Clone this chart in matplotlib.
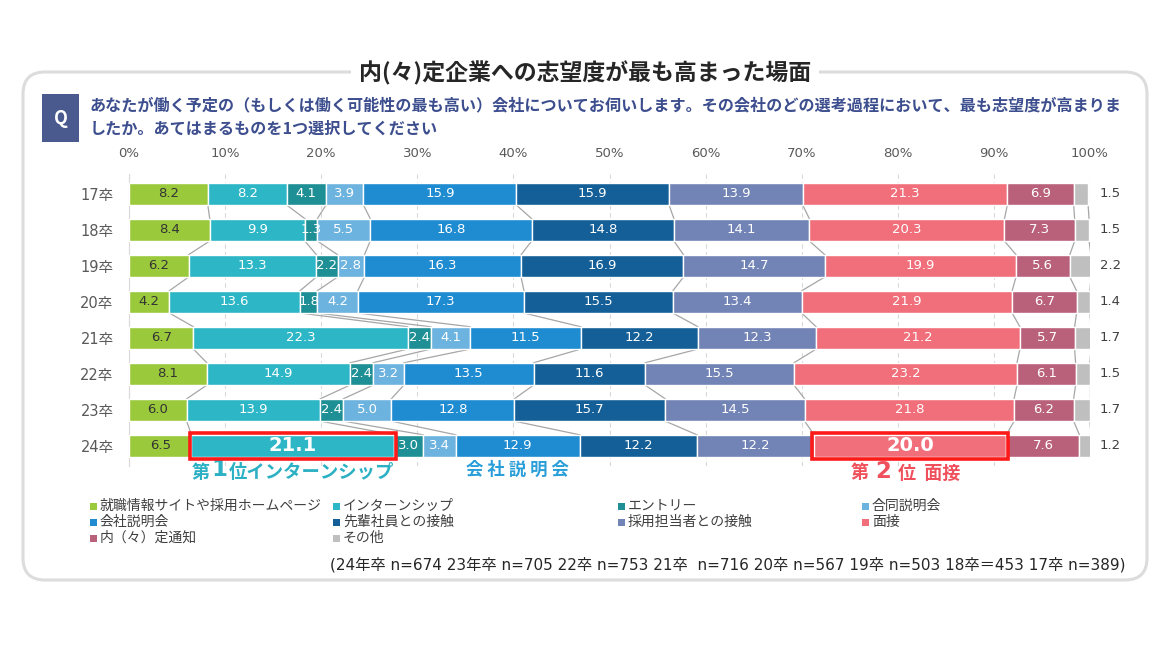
import numpy as np
import matplotlib
matplotlib.use("Agg")
import matplotlib.pyplot as plt
from matplotlib.patches import Rectangle, FancyBboxPatch

plt.rcParams['font.family'] = ['Noto Sans CJK JP', 'DejaVu Sans']
LATIN_FIRST = ['DejaVu Sans', 'Noto Sans CJK JP']

# ---- data ----
years = ['17卒', '18卒', '19卒', '20卒', '21卒', '22卒', '23卒', '24卒']
cats = ['就職情報サイトや採用ホームページ', 'インターンシップ', 'エントリー', '合同説明会',
        '会社説明会', '先輩社員との接触', '採用担当者との接触', '面接',
        '内（々）定通知', 'その他']
colors = ['#9bc93c', '#2cb6c6', '#1d8f95', '#6db3df', '#1f8bd0',
          '#145f97', '#7283b5', '#f06f7b', '#b9617b', '#bfbfbf']

v17 = [8.2, 8.2, 4.1, 3.9, 15.9, 15.9, 13.9, 21.3, 6.9, 1.5]
v18 = [8.4, 9.9, 1.3, 5.5, 16.8, 14.8, 14.1, 20.3, 7.3, 1.5]
v19 = [6.2, 13.3, 2.2, 2.8, 16.3, 16.9, 14.7, 19.9, 5.6, 2.2]
v20 = [4.2, 13.6, 1.8, 4.2, 17.3, 15.5, 13.4, 21.9, 6.7, 1.4]
v21 = [6.7, 22.3, 2.4, 4.1, 11.5, 12.2, 12.3, 21.2, 5.7, 1.7]
v22 = [8.1, 14.9, 2.4, 3.2, 13.5, 11.6, 15.5, 23.2, 6.1, 1.5]
v23 = [6.0, 13.9, 2.4, 5.0, 12.8, 15.7, 14.5, 21.8, 6.2, 1.7]
v24 = [6.5, 21.1, 3.0, 3.4, 12.9, 12.2, 12.2, 20.0, 7.6, 1.2]
vals = np.array([v17, v18, v19, v20, v21, v22, v23, v24])

xticks = [0, 10, 20, 30, 40, 50, 60, 70, 80, 90, 100]
title = '内(々)定企業への志望度が最も高まった場面'
q1 = 'あなたが働く予定の（もしくは働く可能性の最も高い）会社についてお伺いします。その会社のどの選考過程において、最も志望度が高まりま'
q2 = 'したか。あてはまるものを1つ選択してください'
note = '(24年卒 n=674 23年卒 n=705 22卒 n=753 21卒  n=716 20卒 n=567 19卒 n=503 18卒＝453 17卒 n=389)'

W, H = 1175, 648
fig = plt.figure(figsize=(W / 100, H / 100), dpi=100)

# background layer in pixel coordinates
bg = fig.add_axes([0, 0, 1, 1], zorder=0)
bg.set_xlim(0, W)
bg.set_ylim(H, 0)
bg.axis('off')

frame = FancyBboxPatch((23, 72), 1124, 508, boxstyle='round,pad=0,rounding_size=22',
                       fc='white', ec='#dcdcdc', lw=2.2)
bg.add_patch(frame)
bg.text(585, 73, title, ha='center', va='center', fontsize=16.5, fontweight='bold',
        color='#262626', bbox=dict(fc='white', ec='none', pad=6))
bg.add_patch(Rectangle((42, 94), 37, 48, fc='#4a5a8f', ec='none'))
bg.text(60.5, 118, 'Q', ha='center', va='center', fontsize=13, fontweight='bold', color='white')
bg.text(90, 105, q1, ha='left', va='center', fontsize=11.6, fontweight='bold', color='#3d4e8e')
bg.text(90, 129, q2, ha='left', va='center', fontsize=11.6, fontweight='bold', color='#3d4e8e')

# legend (row-major, 4 columns)
leg_x = [90, 333, 618, 862]
leg_y = [506, 522, 538]
for i, (c, col) in enumerate(zip(cats, colors)):
    r, k = divmod(i, 4)
    x, y = leg_x[k], leg_y[r]
    bg.add_patch(Rectangle((x, y - 3.5), 7, 7, fc=col, ec='none'))
    bg.text(x + 10, y, c, ha='left', va='center', fontsize=10, color='#404040')

bg.text(1126, 565, note, ha='right', va='center', fontsize=11, color='#262626',
        family=LATIN_FIRST)

# ---- main chart ----
x0, x1 = 129, 1090
ytop, ybot = 174, 465.8
ax = fig.add_axes([x0 / W, 1 - ybot / H, (x1 - x0) / W, (ybot - ytop) / H], zorder=2)
ax.patch.set_alpha(0)

h = 0.62
n = len(years)
ypos = np.arange(n)
cum = np.cumsum(vals, axis=1)
left = cum - vals

for j in range(len(cats)):
    ax.barh(ypos, vals[:, j], left=left[:, j], height=h, color=colors[j],
            edgecolor='white', lw=1, zorder=3)

# connector lines between years
for i in range(n - 1):
    for j in range(len(cats)):
        ax.plot([cum[i, j], cum[i + 1, j]], [i + h / 2, i + 1 - h / 2],
                color='#a6a6a6', lw=0.9, zorder=2)

# value labels
for i in range(n):
    for j in range(len(cats)):
        v = vals[i, j]
        cx = left[i, j] + v / 2
        if j == len(cats) - 1:
            ax.text(101.0, i, f'{v:.1f}', ha='left', va='center', fontsize=9.5,
                    color='#404040', family='DejaVu Sans')
            continue
        tc = '#333333' if j == 0 else 'white'
        big = (i == n - 1 and j in (1, 7))
        ax.text(cx, i, f'{v:.1f}', ha='center', va='center',
                fontsize=14 if big else 9.5, fontweight='bold' if big else 'normal',
                color=tc, family='DejaVu Sans', zorder=5)

# red highlight boxes on 24卒
for j in (1, 7):
    ax.add_patch(Rectangle((left[-1, j] - 0.2, n - 1 - h / 2 - 0.06), vals[-1, j] + 0.4, h + 0.12,
                           fill=False, ec='#ff1a1a', lw=2.6, zorder=6))

ax.set_xlim(0, 100)
ax.set_ylim(n - 0.45, -0.55)
ax.set_xticks(xticks)
ax.set_xticklabels([f'{t}%' for t in xticks], fontsize=9.5, color='#595959', family='DejaVu Sans')
ax.xaxis.tick_top()
ax.tick_params(axis='x', length=0, pad=10)
ax.set_yticks(ypos)
ax.set_yticklabels(years, fontsize=10.5, color='#595959', family=LATIN_FIRST)
ax.tick_params(axis='y', length=0, pad=11)
ax.grid(axis='x', color='#d9d9d9', ls=(0, (4, 3)), lw=0.8, zorder=0)
for s in ['top', 'right', 'bottom']:
    ax.spines[s].set_visible(False)
ax.spines['left'].set_color('#d9d9d9')

# annotations below the 24卒 bar
bg.text(192, 472, '第', ha='left', va='center', fontsize=13, fontweight='bold', color='#2cb0c4')
bg.text(211, 470, '1', ha='left', va='center', fontsize=16.5, fontweight='bold', color='#2cb0c4',
        family='DejaVu Sans')
bg.text(229, 472, '位インターンシップ', ha='left', va='center', fontsize=13.2, fontweight='bold',
        color='#2cb0c4')
bg.text(517, 470, '会 社 説 明 会', ha='center', va='center', fontsize=12.5, fontweight='bold',
        color='#2a9ed8')
bg.text(851, 473, '第', ha='left', va='center', fontsize=13, fontweight='bold', color='#f0505c')
bg.text(875, 471, '2', ha='left', va='center', fontsize=16.5, fontweight='bold', color='#f0505c',
        family='DejaVu Sans')
bg.text(898, 473, '位  面接', ha='left', va='center', fontsize=13, fontweight='bold',
        color='#f0505c')

fig.savefig('out.png', dpi=100)
